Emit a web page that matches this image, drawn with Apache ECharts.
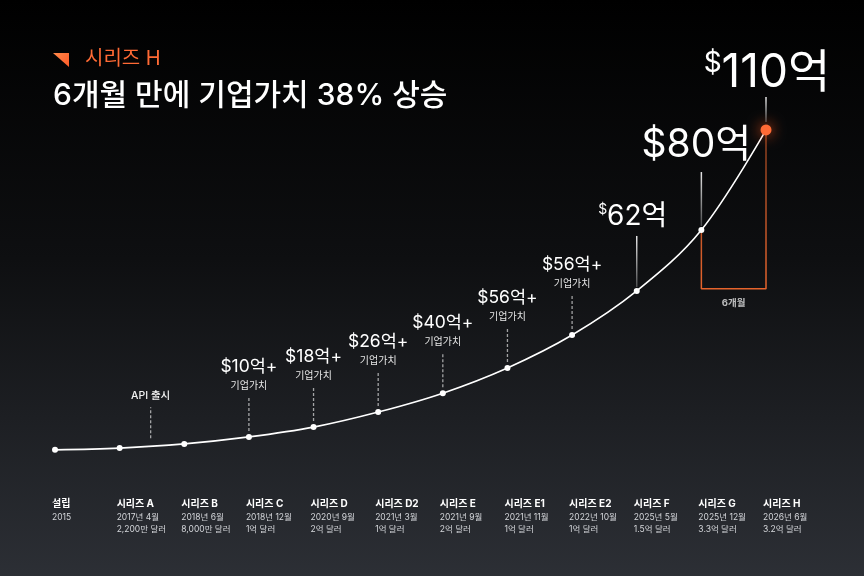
<!DOCTYPE html>
<html>
<head>
<meta charset="utf-8">
<script src="https://cdn.jsdelivr.net/npm/echarts@6/dist/echarts.min.js"></script>
<style>
  html, body { margin: 0; padding: 0; background: #000; }
  #chart { width: 864px; height: 576px; }
</style>
</head>
<body>
<div id="chart"></div>
<script>
// 단계별 데이터
var stages = ['설립', '시리즈 A', '시리즈 B', '시리즈 C', '시리즈 D', '시리즈 D2', '시리즈 E', '시리즈 E1', '시리즈 E2', '시리즈 F', '시리즈 G', '시리즈 H'];
var dates = ['2015', '2017년 4월', '2018년 6월', '2018년 12월', '2020년 9월', '2021년 3월', '2021년 9월', '2021년 11월', '2022년 10월', '2025년 5월', '2025년 12월', '2026년 6월'];
var amounts = ['', '2,200만 달러', '8,000만 달러', '1억 달러', '2억 달러', '1억 달러', '2억 달러', '1억 달러', '1억 달러', '1.5억 달러', '3.3억 달러', '3.2억 달러'];
// 곡선 높이 (그림에서 읽은 값, 0~100 척도)
var curve = [2.9, 3.4, 4.6, 6.6, 9.4, 13.7, 19.1, 26.3, 35.7, 48.3, 65.7, 94.3];
var curveTail = [[11, 94.3], [11.22, 102.9]];

// 작은 말풍선 (점선)
var noteAt = [1.48, 3, 4, 5, 6, 7, 8];
var noteBase = [3.9, 6.6, 9.4, 13.7, 19.1, 26.3, 35.7];
var noteValue = ['API 출시', '$10억+', '$18억+', '$26억+', '$40억+', '$56억+', '$56억+'];
var noteSub = ['', '기업가치', '기업가치', '기업가치', '기업가치', '기업가치', '기업가치'];

// 큰 말풍선 (실선)
var bigAt = [9, 10, 11];
var bigValue = ['62억', '80억', '110억'];

// 6개월 구간
var spanFrom = 10, spanTo = 11, spanFloor = 48.9;
var spanLabel = '6개월';

var ORANGE = '#ff6a35';
var FONT = 'Inter, "Noto Sans CJK KR", sans-serif';

var chart = echarts.init(document.getElementById('chart'));

var curveData = curve.map(function (v, i) {
  var d = { value: [i, v] };
  if (i === curve.length - 1) {
    d.symbolSize = 11;
    d.itemStyle = { color: ORANGE, shadowBlur: 14, shadowColor: 'rgba(255,90,30,0.95)' };
  }
  return d;
});

// 큰 라벨 스타일 (크기는 여기서)
var bigStyle = [
  { gap: 4, len: 51, lift: 19, size: 28, dollar: 14, shift: -4 },
  { gap: 4, len: 54, lift: 27, size: 39, dollar: 39, shift: -5 },
  { gap: 8, len: 25, lift: 24, size: 46, dollar: 28, shift: 1 }
];

function renderNote(params, api) {
  var p = api.coord([api.value(0), api.value(1)]);
  var i = params.dataIndex;
  var isApi = noteSub[i] === '';
  var gap = isApi ? 8 : 6;
  var len = isApi ? 31 : 35;
  var bottom = p[1] - gap, top = bottom - len;
  var children = [{
    type: 'line',
    shape: { x1: p[0], y1: bottom, x2: p[0], y2: top },
    style: { stroke: 'rgba(255,255,255,0.6)', lineWidth: 1.3, lineDash: [3, 2] }
  }];
  if (isApi) {
    children.push({
      type: 'text',
      style: { text: noteValue[i], x: p[0], y: top - 12, fill: '#f2f2f2', font: '500 10.5px ' + FONT, align: 'center', verticalAlign: 'middle' }
    });
  } else {
    children.push({
      type: 'text',
      style: { text: noteSub[i], x: p[0], y: top - 10, fill: '#e6e6e6', font: '400 10px ' + FONT, align: 'center', verticalAlign: 'middle' }
    });
    children.push({
      type: 'text',
      style: { text: noteValue[i], x: p[0], y: top - 29, fill: '#ffffff', font: '400 17.5px ' + FONT, align: 'center', verticalAlign: 'middle' }
    });
  }
  return { type: 'group', children: children };
}

function renderBig(params, api) {
  var p = api.coord([api.value(0), curve[bigAt[params.dataIndex]]]);
  var s = bigStyle[params.dataIndex];
  var bottom = p[1] - s.gap, top = bottom - s.len;
  return {
    type: 'group',
    children: [{
      type: 'line',
      shape: { x1: p[0], y1: bottom, x2: p[0], y2: top },
      style: {
        lineWidth: 1.5,
        stroke: { type: 'linear', x: p[0], y: top, x2: p[0], y2: bottom, global: true,
          colorStops: [{ offset: 0, color: 'rgba(255,255,255,0.9)' }, { offset: 1, color: 'rgba(255,255,255,0.25)' }] }
      }
    }, {
      type: 'text',
      style: {
        text: '{d|$}{v|' + bigValue[params.dataIndex] + '}',
        x: p[0] + s.shift, y: top - s.lift, align: 'center', verticalAlign: 'middle',
        rich: {
          d: { fontSize: s.dollar, fontFamily: FONT, fill: '#fff', color: '#fff', verticalAlign: 'top', lineHeight: s.size },
          v: { fontSize: s.size, fontFamily: FONT, fill: '#fff', color: '#fff', lineHeight: s.size }
        }
      }
    }]
  };
}

var option = {
  backgroundColor: {
    type: 'linear', x: 0, y: 0, x2: 0, y2: 1,
    colorStops: [{ offset: 0, color: '#000000' }, { offset: 0.45, color: '#0e0f11' }, { offset: 1, color: '#2c2f35' }]
  },
  animation: false,
  grid: { left: 55, right: 98, top: 110, bottom: 116 },
  xAxis: {
    type: 'value', min: 0, max: 11, interval: 1,
    axisLine: { show: false }, axisTick: { show: false }, splitLine: { show: false },
    axisLabel: {
      margin: 37, align: 'left', padding: [0, 0, 0, -3],
      formatter: function (v) {
        var i = Math.round(v);
        var s = '{n|' + stages[i] + '}\n{d|' + dates[i] + '}';
        if (amounts[i]) s += '\n{d|' + amounts[i] + '}';
        return s;
      },
      rich: {
        n: { fontSize: 10, fontWeight: 'bold', color: '#ffffff', fontFamily: FONT, lineHeight: 14 },
        d: { fontSize: 8.5, color: '#d4d6da', fontFamily: FONT, lineHeight: 12 }
      }
    }
  },
  yAxis: { type: 'value', min: 0, max: 100, show: false },
  graphic: [
    { type: 'polygon', shape: { points: [[53, 53], [69, 53], [69, 67]] },
      style: { fill: { type: 'linear', x: 0, y: 0, x2: 1, y2: 1, colorStops: [{ offset: 0, color: '#ff8a4a' }, { offset: 1, color: '#ff5a28' }] } } },
    { type: 'text', left: 85, top: 49, style: { text: '시리즈 H', fill: ORANGE, font: '400 20px ' + FONT } },
    { type: 'text', left: 53, top: 81, style: { text: '6개월 만에 기업가치 38% 상승', fill: '#ffffff', font: '500 30px ' + FONT } }
  ],
  series: [
    {
      type: 'line',
      data: [[spanFrom, curve[spanFrom]], [spanFrom, spanFloor], [spanTo, spanFloor], [spanTo, curve[spanTo]]],
      symbol: 'none', silent: true, z: 1,
      lineStyle: {
        width: 1.5,
        color: { type: 'linear', x: 0, y: 0, x2: 0, y2: 1,
          colorStops: [{ offset: 0, color: 'rgba(232,100,44,0.55)' }, { offset: 1, color: '#e8642c' }] }
      },
      label: { show: false }
    },
    {
      type: 'scatter',
      data: [[(spanFrom + spanTo) / 2, spanFloor]],
      symbolSize: 0, silent: true,
      label: { show: true, position: 'bottom', distance: 10, formatter: spanLabel, color: '#e8e8e8', fontSize: 9.5, fontWeight: 'bold', fontFamily: FONT }
    },
    {
      type: 'line',
      data: curveTail,
      symbol: 'none', clip: false, z: 2,
      lineStyle: { color: 'rgba(255,255,255,0.55)', width: 1.3, type: [3, 2] }
    },
    {
      type: 'line',
      data: curveData,
      smooth: 0.35, z: 3,
      symbol: 'circle', symbolSize: 6,
      lineStyle: { color: '#ffffff', width: 1.6 },
      itemStyle: { color: '#ffffff' }
    },
    {
      type: 'custom',
      data: noteAt.map(function (x, i) { return [x, noteBase[i]]; }),
      renderItem: renderNote, clip: false, silent: true, z: 4
    },
    {
      type: 'custom',
      data: bigAt.map(function (x) { return [x, curve[x]]; }),
      renderItem: renderBig, clip: false, silent: true, z: 4
    }
  ]
};

chart.setOption(option);
</script>
</body>
</html>
